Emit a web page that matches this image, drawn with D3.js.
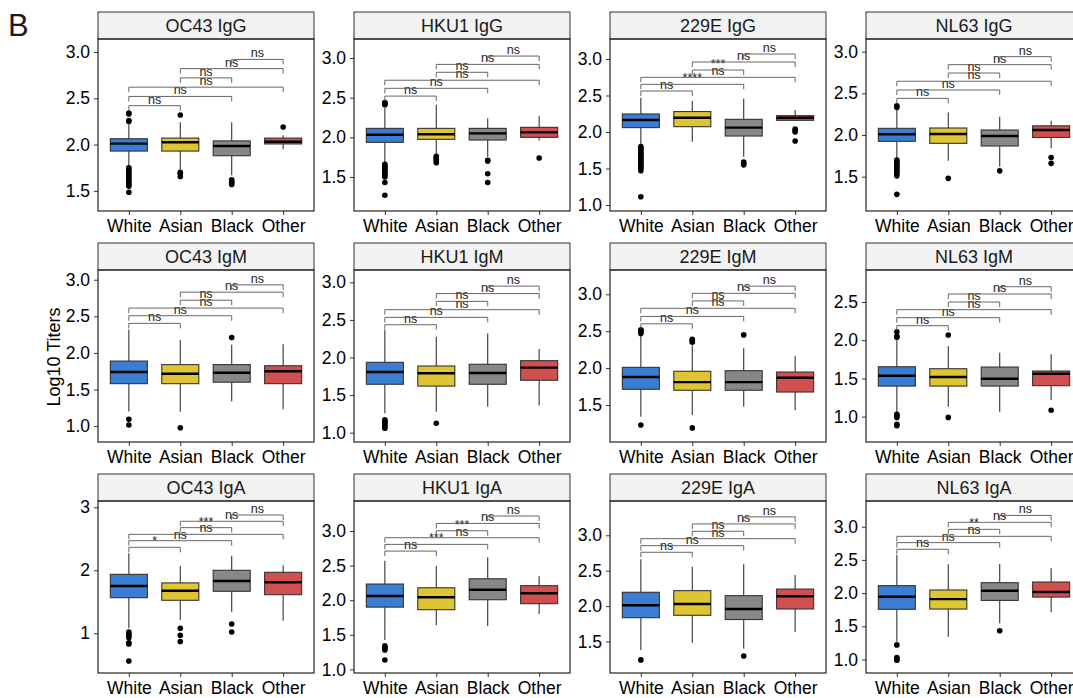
<!DOCTYPE html>
<html><head><meta charset="utf-8">
<script src="https://cdn.jsdelivr.net/npm/d3@7"></script>
<style>html,body{margin:0;padding:0;background:#fff;}svg{display:block;font-family:"Liberation Sans",Arial,sans-serif;}</style>
</head><body><svg id="c" width="1073" height="698"></svg>
<script>
const groups = ["White","Asian","Black","Other"];
const groupColors = ["#3a7dd2","#e0c532","#888888","#d04f4f"];
const panelTitles = ["OC43 IgG","HKU1 IgG","229E IgG","NL63 IgG","OC43 IgM","HKU1 IgM","229E IgM","NL63 IgM","OC43 IgA","HKU1 IgA","229E IgA","NL63 IgA"];
const yDomains = [[1.283,3.140],[1.071,3.240],[0.918,3.274],[1.088,3.152],
                  [0.783,3.133],[0.876,3.164],[0.999,3.329],[0.668,2.919],
                  [0.370,3.100],[0.948,3.434],[1.055,3.484],[0.797,3.387]];
const yTicks = [[1.5,2.0,2.5,3.0],[1.5,2.0,2.5,3.0],[1.0,1.5,2.0,2.5,3.0],[1.5,2.0,2.5,3.0],
                [1.0,1.5,2.0,2.5,3.0],[1.0,1.5,2.0,2.5,3.0],[1.5,2.0,2.5,3.0],[1.0,1.5,2.0,2.5],
                [1,2,3],[1.0,1.5,2.0,2.5,3.0],[1.5,2.0,2.5,3.0],[1.0,1.5,2.0,2.5,3.0]];
const yTickFormats = [".1f",".1f",".1f",".1f",".1f",".1f",".1f",".1f","d",".1f",".1f",".1f"];
const q1 = [[1.93,1.93,1.88,2.007],[1.937,1.975,1.966,2.0],[2.06,2.073,1.945,2.16],[1.924,1.90,1.868,1.97],
            [1.58,1.58,1.60,1.58],[1.644,1.62,1.644,1.697],[1.713,1.70,1.70,1.676],[1.40,1.40,1.40,1.405],
            [1.565,1.524,1.667,1.613],[1.90,1.863,2.007,1.95],[1.836,1.87,1.81,1.959],[1.756,1.76,1.89,1.94]];
const medians = [[2.01,2.025,1.985,2.03],[2.033,2.038,2.05,2.063],[2.164,2.196,2.06,2.196],[2.009,2.012,1.988,2.06],
                 [1.739,1.716,1.73,1.749],[1.807,1.79,1.794,1.865],[1.88,1.81,1.81,1.87],[1.535,1.518,1.496,1.562],
                 [1.75,1.676,1.83,1.81],[2.061,2.042,2.152,2.1],[2.011,2.03,1.959,2.138],[1.946,1.91,2.036,2.016]];
const q3 = [[2.063,2.07,2.04,2.07],[2.113,2.113,2.113,2.126],[2.247,2.28,2.174,2.224],[2.08,2.084,2.06,2.11],
            [1.889,1.84,1.84,1.825],[1.936,1.887,1.91,1.958],[2.01,1.957,1.965,1.947],[1.653,1.627,1.649,1.597],
            [1.936,1.80,2.0,1.968],[2.234,2.18,2.31,2.21],[2.195,2.218,2.147,2.24],[2.112,2.047,2.157,2.167]];
const whiskerLow = [[1.76,1.73,1.67,1.95],[1.67,1.78,1.755,1.96],[1.82,1.867,1.66,2.16],[1.71,1.69,1.62,1.84],
                    [1.2,1.197,1.34,1.23],[1.258,1.28,1.346,1.36],[1.34,1.365,1.48,1.43],[1.06,1.13,1.064,1.217],
                    [1.08,1.21,1.343,1.2],[1.425,1.637,1.627,1.80],[1.38,1.483,1.40,1.634],[1.268,1.343,1.545,1.71]];
const whiskerHigh = [[2.22,2.24,2.24,2.10],[2.37,2.41,2.24,2.27],[2.47,2.425,2.46,2.30],[2.30,2.27,2.22,2.17],
                     [2.32,2.176,2.11,2.117],[2.366,2.277,2.32,2.113],[2.45,2.31,2.27,2.164],[2.0,1.924,1.836,1.815],
                     [2.27,2.068,2.232,2.079],[2.57,2.494,2.62,2.345],[2.66,2.557,2.59,2.44],[2.574,2.434,2.44,2.373]];
const outliers = [
  [[2.34,2.33,2.26,2.25,1.75,1.73,1.71,1.69,1.67,1.65,1.63,1.61,1.59,1.57,1.55,1.485],[2.32,1.70,1.69,1.655],[1.62,1.60,1.59,1.57],[2.19]],
  [[2.44,2.43,2.42,2.41,1.66,1.64,1.62,1.60,1.58,1.56,1.54,1.52,1.50,1.43,1.27],[1.76,1.74,1.72,1.70,1.68],[1.71,1.70,1.54,1.43],[1.74]],
  [[1.80,1.78,1.76,1.74,1.72,1.70,1.68,1.66,1.64,1.62,1.60,1.58,1.56,1.54,1.52,1.50,1.47,1.114],[],[1.59,1.57,1.55],[2.04,2.02,2.0,1.877]],
  [[2.35,2.33,1.70,1.68,1.66,1.64,1.62,1.60,1.58,1.56,1.54,1.51,1.288],[1.48],[1.57],[1.73,1.66]],
  [[1.093,1.015],[0.978],[2.21],[]],
  [[1.17,1.15,1.13,1.11,1.08,1.06],[1.125],[],[]],
  [[2.52,2.51,2.49,2.47,1.23],[2.39,2.37,2.35,1.19],[2.45],[]],
  [[2.11,2.05,2.04,1.03,1.01,0.99,0.90,0.88],[2.068,0.99],[],[1.083]],
  [[1.02,0.99,0.96,0.93,0.85,0.83,0.56],[1.08,0.97,0.87],[1.148,1.02],[]],
  [[1.34,1.32,1.30,1.28,1.136],[],[],[]],
  [[1.24],[],[1.295],[]],
  [[1.22,1.03,1.01,0.99],[],[1.434],[]]
];
const comparisons = [[0,1],[0,2],[0,3],[1,2],[1,3],[2,3]];
const bracketY = [[2.42,2.52,2.62,2.72,2.82,2.92],[2.52,2.618,2.72,2.82,2.92,3.025],[2.562,2.653,2.749,2.849,2.959,3.068],[2.44,2.54,2.645,2.744,2.844,2.94],
                  [2.404,2.508,2.613,2.72,2.83,2.93],[2.436,2.534,2.636,2.747,2.85,2.95],[2.60,2.70,2.81,2.91,3.013,3.11],[2.19,2.295,2.40,2.50,2.605,2.70],
                  [2.365,2.47,2.571,2.677,2.778,2.878],[2.71,2.807,2.903,3.004,3.11,3.217],[2.76,2.853,2.952,3.056,3.16,3.26],[2.66,2.76,2.855,2.96,3.066,3.17]];
const ns6 = ["ns","ns","ns","ns","ns","ns"];
const bracketLabels = [ns6,ns6,["ns","****","ns","***","ns","ns"],ns6,
                       ns6,ns6,ns6,ns6,
                       ["*","ns","ns","***","ns","ns"],["ns","***","ns","***","ns","ns"],ns6,["ns","ns","ns","**","ns","ns"]];

const svg = d3.select("#c");
svg.append("rect").attr("width",1073).attr("height",698).attr("fill","#fff");
const colLeft = [98,354,610,866], rowTop = [12,243,474];
const PW = 216, SH = 27, PH = 172;

svg.append("text").attr("x",8).attr("y",36).attr("font-size",31).attr("fill","#231815").text("B");
svg.append("text").attr("transform","translate(60,357) rotate(-90)").attr("text-anchor","middle")
  .attr("font-size",18).attr("fill","#000").text("Log10 Titers");

panelTitles.forEach((title,p)=>{
  const r = Math.floor(p/4), c = p%4;
  const left = colLeft[c], top = rowTop[r]+SH, bottom = top+PH;
  const g = svg.append("g");
  const x = d3.scalePoint().domain(groups).range([left,left+PW]).padding(0.6);
  const y = d3.scaleLinear().domain(yDomains[p]).range([bottom,top]);
  const bw = x.step()*0.72;
  // strip
  g.append("rect").attr("x",left).attr("y",rowTop[r]).attr("width",PW).attr("height",SH)
    .attr("fill","#f2f2f2").attr("stroke","#333").attr("stroke-width",1);
  g.append("text").attr("x",left+PW/2).attr("y",rowTop[r]+SH/2).attr("dy","0.36em")
    .attr("text-anchor","middle").attr("font-size",18).attr("fill","#1a1a1a").text(title);
  // axes
  const ya = d3.axisLeft(y).tickValues(yTicks[p]).tickSize(4).tickPadding(4).tickFormat(d3.format(yTickFormats[p]));
  const yg = g.append("g").attr("transform",`translate(${left},0)`).call(ya);
  yg.select(".domain").remove();
  yg.selectAll("line").attr("stroke","#333");
  yg.selectAll("text").attr("font-size",17.5).attr("fill","#000").attr("font-family","Liberation Sans, Arial, sans-serif");
  const xa = d3.axisBottom(x).tickSize(4).tickPadding(5);
  const xg = g.append("g").attr("transform",`translate(0,${bottom})`).call(xa);
  xg.select(".domain").remove();
  xg.selectAll("line").attr("stroke","#333");
  xg.selectAll("text").attr("font-size",17.5).attr("fill","#000").attr("font-family","Liberation Sans, Arial, sans-serif");
  // boxes
  groups.forEach((grp,i)=>{
    const cx = x(grp);
    g.append("line").attr("x1",cx).attr("x2",cx).attr("y1",y(whiskerLow[p][i])).attr("y2",y(q1[p][i]))
      .attr("stroke","#333").attr("stroke-width",1.1);
    g.append("line").attr("x1",cx).attr("x2",cx).attr("y1",y(q3[p][i])).attr("y2",y(whiskerHigh[p][i]))
      .attr("stroke","#333").attr("stroke-width",1.1);
    g.append("rect").attr("x",cx-bw/2).attr("width",bw).attr("y",y(q3[p][i])).attr("height",y(q1[p][i])-y(q3[p][i]))
      .attr("fill",groupColors[i]).attr("stroke","#333").attr("stroke-width",1.1);
    g.append("line").attr("x1",cx-bw/2).attr("x2",cx+bw/2).attr("y1",y(medians[p][i])).attr("y2",y(medians[p][i]))
      .attr("stroke","#000").attr("stroke-width",2.4);
    g.selectAll(null).data(outliers[p][i]).enter().append("circle")
      .attr("cx",cx).attr("cy",d=>y(d)).attr("r",2.8).attr("fill","#000");
  });
  // brackets
  comparisons.forEach((cmp,k)=>{
    const x1 = x(groups[cmp[0]]), x2 = x(groups[cmp[1]]), by = y(bracketY[p][k]);
    g.append("path").attr("d",`M${x1},${by+5}V${by}H${x2}V${by+5}`)
      .attr("fill","none").attr("stroke","#555").attr("stroke-width",0.9);
    g.append("text").attr("x",(x1+x2)/2).attr("y",by-2).attr("text-anchor","middle")
      .attr("font-size",12.5).attr("fill","#222").text(bracketLabels[p][k]);
  });
  // panel border
  g.append("rect").attr("x",left).attr("y",top).attr("width",PW).attr("height",PH)
    .attr("fill","none").attr("stroke","#222").attr("stroke-width",1.2);
});
</script></body></html>
